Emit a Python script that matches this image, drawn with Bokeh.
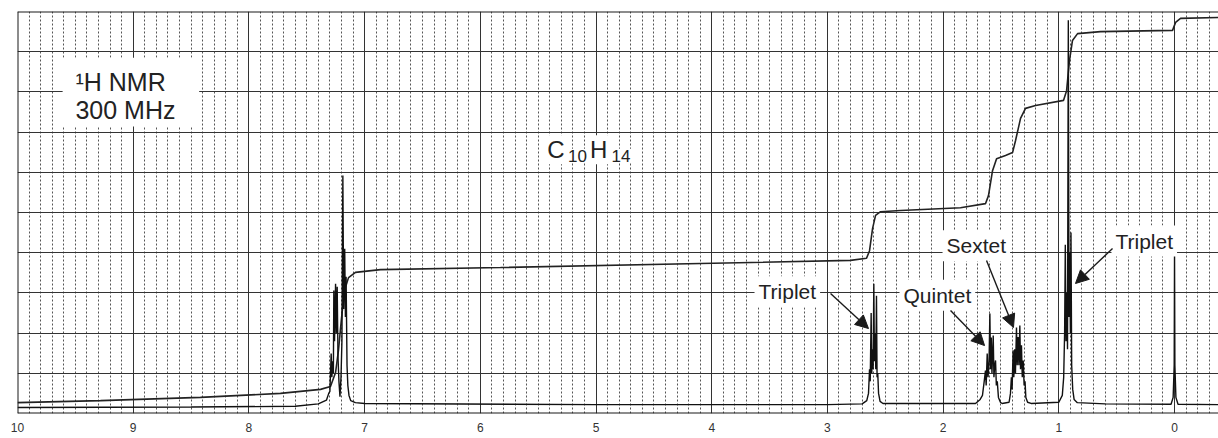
from bokeh.plotting import figure
from bokeh.models import Range1d, FixedTicker, Label, Arrow, NormalHead, BoxAnnotation, Span
from bokeh.embed import file_html
from bokeh.resources import INLINE

# ---------------- data ----------------
# chemical shift axis (ppm) and tick labels
tick_values = [0, 1, 2, 3, 4, 5, 6, 7, 8, 9, 10]
tick_labels = ["0", "1", "2", "3", "4", "5", "6", "7", "8", "9", "10"]
minor_tick_values = [round(i * 0.1, 1) for i in range(-3, 101) if i % 10 != 0]
chart_divisions = [0, 1, 2, 3, 4, 5, 6, 7, 8, 9, 10]

# spectrum trace: (ppm, height in chart divisions)
spectrum_ppm = [
    10.0, 8.5, 7.6, 7.4, 7.33, 7.31,
    7.300, 7.289, 7.283, 7.275, 7.270, 7.266, 7.260, 7.251, 7.245, 7.237, 7.230,
    7.222, 7.213, 7.204, 7.196, 7.188, 7.181, 7.172, 7.166, 7.160, 7.152, 7.145,
    7.135, 7.12, 7.08, 7.0,
    5.0, 3.0, 2.70, 2.66,
    2.645, 2.636, 2.630, 2.622, 2.617, 2.610, 2.605, 2.599, 2.594, 2.588, 2.582,
    2.576, 2.571, 2.565, 2.558, 2.545, 2.52,
    1.72, 1.68,
    1.66, 1.645, 1.634, 1.628, 1.619, 1.612, 1.603, 1.596, 1.590, 1.584, 1.578,
    1.572, 1.567, 1.561, 1.554, 1.547, 1.540, 1.532, 1.522, 1.505, 1.49,
    1.43, 1.418, 1.410, 1.404, 1.395, 1.389, 1.381, 1.375, 1.366, 1.360, 1.352,
    1.345, 1.337, 1.331, 1.323, 1.316, 1.308, 1.300, 1.292, 1.285, 1.27, 1.24,
    1.0, 0.97,
    0.958, 0.950, 0.944, 0.938, 0.930, 0.925, 0.918, 0.912, 0.906, 0.900, 0.895,
    0.889, 0.880, 0.868, 0.84, 0.6,
    0.03, 0.012, 0.003, 0.0, -0.003, -0.012, -0.03, -0.38,
]
spectrum_height = [
    0.15, 0.16, 0.18, 0.24, 0.33, 0.50,
    0.55, 1.49, 0.90, 1.30, 1.00, 3.06, 1.80, 3.23, 2.00, 3.15, 1.40,
    0.80, 0.42, 0.90, 1.80, 5.92, 2.60, 4.10, 2.40, 3.40, 1.20, 0.70,
    0.45, 0.32, 0.27, 0.25,
    0.22, 0.22, 0.24, 0.32,
    0.50, 1.10, 0.80, 2.50, 1.00, 1.60, 1.10, 3.23, 1.30, 2.00, 1.10,
    2.93, 0.90, 1.00, 0.50, 0.30, 0.25,
    0.25, 0.35,
    0.45, 0.80, 1.07, 0.70, 1.49, 0.90, 1.30, 2.49, 1.10, 1.89, 1.00,
    1.50, 1.94, 0.90, 1.20, 1.32, 0.70, 0.80, 0.40, 0.28, 0.25,
    0.28, 0.50, 0.90, 0.60, 1.57, 0.90, 1.60, 1.00, 2.14, 1.20, 1.90,
    1.20, 2.19, 1.10, 1.70, 0.90, 1.32, 0.70, 0.80, 0.40, 0.28, 0.25,
    0.28, 0.45,
    0.90, 2.00, 4.20, 1.80, 3.00, 1.60, 9.78, 2.40, 4.00, 2.00, 4.50,
    1.20, 0.60, 0.35, 0.27, 0.24,
    0.23, 0.40, 1.20, 3.98, 1.20, 0.40, 0.23, 0.22,
]

# integral trace: (ppm, height in chart divisions)
integral_ppm = [
    10.0, 9.283, 8.418, 7.727, 7.381, 7.295, 7.251, 7.226, 7.200, 7.174, 7.139,
    7.079, 6.863, 5.825, 4.097, 2.800, 2.662, 2.636, 2.610, 2.584, 2.541, 2.368,
    1.850, 1.634, 1.608, 1.573, 1.538, 1.461, 1.400, 1.374, 1.331, 1.288, 1.201,
    0.959, 0.933, 0.908, 0.882, 0.838, 0.640, 0.017, -0.009, -0.052, -0.38,
]
integral_height = [
    0.27, 0.32, 0.40, 0.50, 0.60, 0.67, 1.02, 1.57, 2.36, 3.06, 3.38,
    3.51, 3.58, 3.63, 3.73, 3.81, 3.86, 4.05, 4.60, 4.93, 5.02, 5.05,
    5.12, 5.22, 5.42, 6.04, 6.34, 6.42, 6.49, 6.79, 7.34, 7.59, 7.66,
    7.79, 8.03, 8.78, 9.28, 9.45, 9.50, 9.53, 9.73, 9.83, 9.85,
]

# ---------------- figure ----------------
p = figure(
    width=1218, height=438,
    output_backend="svg", toolbar_location=None,
    x_range=Range1d(10, -0.38), y_range=Range1d(0, 10),
    min_border_left=17, min_border_right=0, min_border_top=11, min_border_bottom=25,
)
p.background_fill_color = "white"
p.border_fill_color = "white"
p.outline_line_color = None

# x axis
p.xaxis.ticker = FixedTicker(ticks=tick_values)
p.xaxis.major_label_overrides = {v: t for v, t in zip(tick_values, tick_labels)}
p.xaxis.major_tick_out = 0
p.xaxis.major_tick_in = 0
p.xaxis.minor_tick_out = 0
p.xaxis.minor_tick_in = 0
p.xaxis.axis_line_color = None
p.xaxis.major_label_standoff = 9
p.xaxis.major_label_text_font = "Liberation Sans"
p.xaxis.major_label_text_font_size = "12px"
p.xaxis.major_label_text_color = "#333333"
p.yaxis.visible = False

# chart-paper grid
p.xgrid.ticker = FixedTicker(ticks=tick_values, minor_ticks=minor_tick_values)
p.xgrid.grid_line_color = "#333333"
p.xgrid.grid_line_width = 1
p.xgrid.minor_grid_line_color = "#555555"
p.xgrid.minor_grid_line_dash = "2 2"
p.xgrid.minor_grid_line_width = 1
p.ygrid.ticker = FixedTicker(ticks=chart_divisions)
p.ygrid.grid_line_color = "#333333"
p.ygrid.grid_line_width = 1.2

# traces
p.line(integral_ppm, integral_height, line_color="#222222", line_width=1.6)
p.line(spectrum_ppm, spectrum_height, line_color="#111111", line_width=1.4)

# frame edges (left, top, bottom)
p.add_layout(Span(location=10, dimension="height", line_color="#1a1a1a", line_width=2))
for loc in [0, 10]:
    p.add_layout(Span(location=loc, dimension="width", line_color="#1a1a1a", line_width=2))

FONT = "Liberation Sans"

# title box
p.add_layout(BoxAnnotation(left=9.61, right=8.43, top=8.85, bottom=7.14,
                           fill_color="white", fill_alpha=1.0, line_color=None))
p.add_layout(Label(x=9.499, y=8.24, text="¹H NMR", text_font=FONT, text_font_size="25px",
                   text_color="#222222", text_baseline="alphabetic"))
p.add_layout(Label(x=9.499, y=7.54, text="300 MHz", text_font=FONT, text_font_size="25px",
                   text_color="#222222", text_baseline="alphabetic"))

# formula C10H14
for x, y, t, fs in [(5.43, 6.56, "C", "24px"), (5.25, 6.41, "10", "17px"),
                    (5.06, 6.56, "H", "24px"), (4.875, 6.41, "14", "17px")]:
    p.add_layout(Label(x=x, y=y, text=t, text_font=FONT, text_font_size=fs,
                       text_color="#222222", text_baseline="alphabetic",
                       background_fill_color="white", padding=1))

# multiplet annotations
for x, y, t in [(3.630, 3.03, "Triplet"), (2.377, 2.94, "Quintet"),
                (2.005, 4.17, "Sextet"), (0.545, 4.29, "Triplet")]:
    p.add_layout(Label(x=x, y=y, text=t, text_font=FONT, text_font_size="21px",
                       text_color="#222222", text_baseline="alphabetic",
                       background_fill_color="white", padding=4))

for xs, ys, xe, ye in [(2.973, 2.985, 2.645, 2.114), (1.936, 2.562, 1.642, 1.69),
                       (1.625, 3.806, 1.392, 2.139), (0.536, 4.104, 0.856, 3.234)]:
    p.add_layout(Arrow(x_start=xs, y_start=ys, x_end=xe, y_end=ye,
                       line_color="#1a1a1a", line_width=1.4,
                       end=NormalHead(size=13, fill_color="#1a1a1a", line_color="#1a1a1a")))

open("out.html", "w").write(file_html(p, INLINE))
